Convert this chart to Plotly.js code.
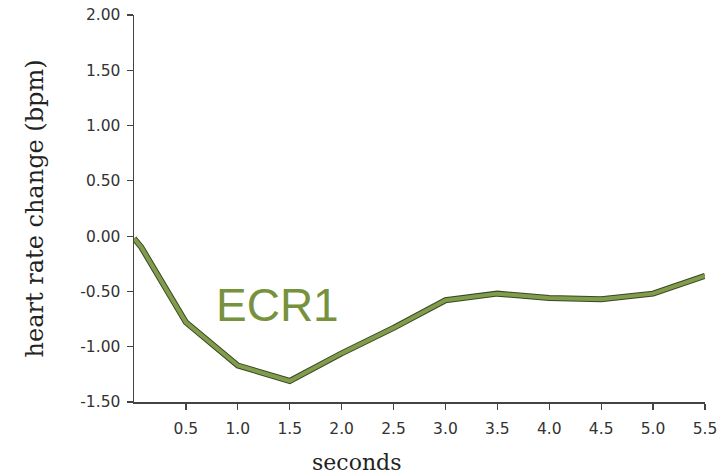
<!DOCTYPE html>
<html>
<head>
<meta charset="utf-8">
<script src="https://cdn.plot.ly/plotly-3.0.1.min.js"></script>
<style>html,body{margin:0;padding:0;background:#fff;}#chart{width:721px;height:476px;}</style>
</head>
<body>
<div id="chart"></div>
<script>
// Data
const seconds = [0, 0.07, 0.5, 1.0, 1.5, 2.0, 2.5, 3.0, 3.5, 4.0, 4.5, 5.0, 5.5];
const hrChange = [-0.02, -0.1, -0.78, -1.17, -1.31, -1.06, -0.83, -0.58, -0.52, -0.56, -0.57, -0.52, -0.36];
const xTickVals = [0.5, 1.0, 1.5, 2.0, 2.5, 3.0, 3.5, 4.0, 4.5, 5.0, 5.5];
const xTickText = ["0.5", "1.0", "1.5", "2.0", "2.5", "3.0", "3.5", "4.0", "4.5", "5.0", "5.5"];
const yTickVals = [-1.5, -1.0, -0.5, 0, 0.5, 1.0, 1.5, 2.0];
const yTickText = ["-1.50", "-1.00", "-0.50", "0.00", "0.50", "1.00", "1.50", "2.00"];
const seriesLabel = "ECR1";
const xTitle = "seconds";
const yTitle = "heart rate change (bpm)";

const traces = [
  {x: seconds, y: hrChange, mode: "lines", line: {color: "#3a4721", width: 6}, hoverinfo: "skip"},
  {x: seconds, y: hrChange, mode: "lines", line: {color: "#809c4c", width: 4}, name: seriesLabel}
];

const tickFont = {family: "DejaVu Sans", size: 15.5, color: "#333"};
const layout = {
  width: 721, height: 476,
  margin: {l: 134, r: 16, t: 15, b: 74},
  paper_bgcolor: "#fff", plot_bgcolor: "#fff",
  showlegend: false,
  xaxis: {
    range: [0, 5.5], tickvals: xTickVals, ticktext: xTickText,
    showgrid: false, zeroline: false, showline: true, linecolor: "#444", linewidth: 1.5,
    ticks: "outside", ticklen: 6, tickcolor: "#444", tickwidth: 1.2,
    tickfont: tickFont, ticklabelstandoff: 6
  },
  yaxis: {
    range: [-1.5, 2.0], tickvals: yTickVals, ticktext: yTickText,
    showgrid: false, zeroline: false, showline: true, linecolor: "#444", linewidth: 1.5,
    ticks: "outside", ticklen: 6, tickcolor: "#444", tickwidth: 1.2,
    tickfont: tickFont, ticklabelstandoff: 3
  },
  annotations: [
    {text: seriesLabel, xref: "x", yref: "y", x: 1.38, y: -0.62, showarrow: false,
     font: {family: "Liberation Sans", size: 46, color: "#76923c"}},
    {text: xTitle, xref: "paper", yref: "paper", x: (356-134)/571, y: -(462-402)/387, showarrow: false,
     xanchor: "center", yanchor: "middle",
     font: {family: "DejaVu Serif", size: 22, color: "#222"}},
    {text: yTitle, xref: "paper", yref: "paper", x: (34-134)/571, y: 0.5, showarrow: false,
     textangle: -90, xanchor: "center", yanchor: "middle",
     font: {family: "DejaVu Serif", size: 24, color: "#222"}}
  ]
};

Plotly.newPlot("chart", traces, layout, {displayModeBar: false, staticPlot: true});
</script>
</body>
</html>
